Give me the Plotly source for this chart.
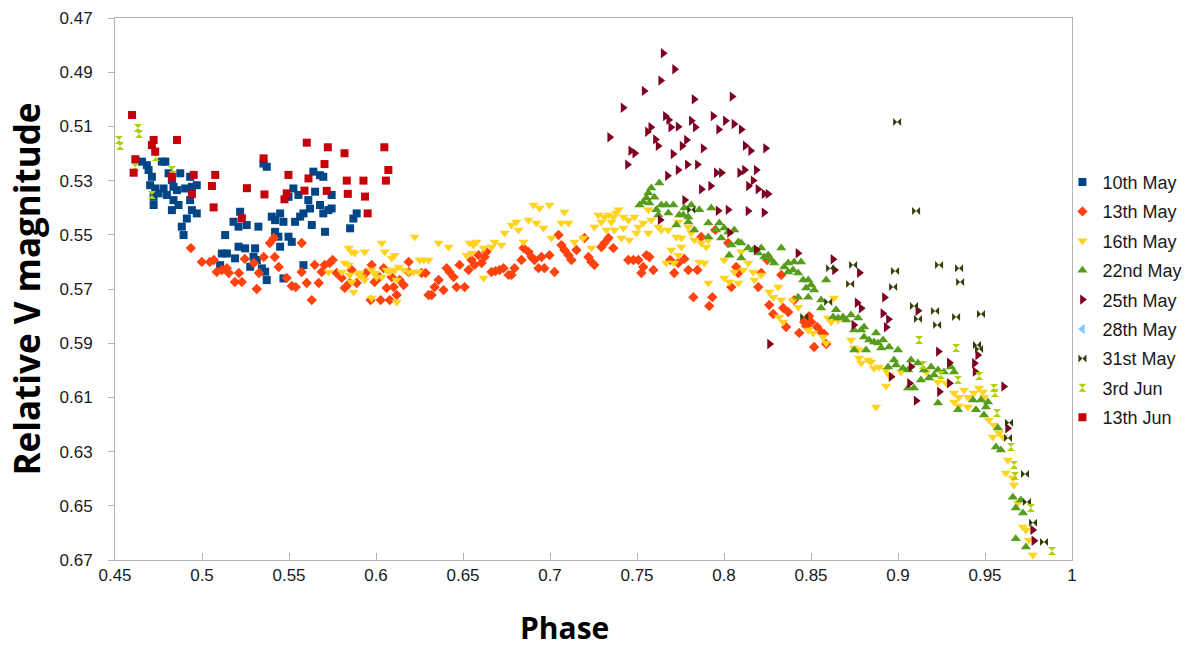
import plotly.graph_objects as go

# ---------------- data (phase, relative V magnitude) ----------------
may10 = [(0.4655,0.5230),(0.4683,0.5243),(0.4693,0.5261),(0.4712,0.5286),(0.4702,0.5317),(0.4731,0.5329),
         (0.4722,0.5360),(0.4722,0.5390),(0.4750,0.5347),(0.4769,0.5230),(0.4789,0.5230),(0.4779,0.5329),
         (0.4798,0.5353),(0.4808,0.5273),(0.4827,0.5298),(0.4836,0.5323),(0.4836,0.5372),(0.4827,0.5409),
         (0.4856,0.5335),(0.4865,0.5390),(0.4875,0.5273),(0.4903,0.5329),(0.4932,0.5286),(0.4942,0.5323),
         (0.4970,0.5317),(0.4932,0.5372),(0.4942,0.5409),(0.4970,0.5421),(0.4913,0.5440),(0.4884,0.5470),
         (0.4894,0.5501),(0.5353,0.5237),(0.5372,0.5249),(0.5219,0.5415),(0.5181,0.5452),(0.5210,0.5470),
         (0.5257,0.5464),(0.5324,0.5470),(0.5133,0.5501),(0.5114,0.5569),(0.5143,0.5569),(0.5104,0.5612),
         (0.5190,0.5587),(0.5210,0.5544),(0.5248,0.5550),(0.5277,0.5618),(0.5296,0.5581),(0.5305,0.5550),
         (0.5315,0.5593),(0.5344,0.5624),(0.5363,0.5636),(0.5372,0.5667),(0.5401,0.5433),(0.5420,0.5446),
         (0.5449,0.5421),(0.5468,0.5452),(0.5420,0.5489),(0.5439,0.5507),(0.5449,0.5544),(0.5497,0.5507),
         (0.5516,0.5526),(0.5468,0.5661),(0.5497,0.5360),(0.5525,0.5329),(0.5554,0.5353),(0.5583,0.5421),
         (0.5564,0.5433),(0.5611,0.5372),(0.5621,0.5403),(0.5640,0.5267),(0.5678,0.5280),(0.5697,0.5286),
         (0.5650,0.5341),(0.5678,0.5390),(0.5697,0.5421),(0.5726,0.5409),(0.5745,0.5353),(0.5745,0.5403),
         (0.5707,0.5489),(0.5631,0.5464),(0.5583,0.5612),(0.5851,0.5476),(0.5870,0.5440),(0.5889,0.5421),
         (0.5535,0.5452)]

may13 = [(0.4936,0.5549),(0.4999,0.5600),(0.5045,0.5600),(0.5068,0.5593),(0.5085,0.5637),(0.5114,0.5630),
         (0.5143,0.5623),(0.5154,0.5641),(0.5189,0.5674),(0.5229,0.5674),(0.5212,0.5641),(0.5246,0.5589),
         (0.5298,0.5604),(0.5355,0.5582),(0.5315,0.5700),(0.5327,0.5641),(0.5390,0.5530),(0.5413,0.5512),
         (0.5418,0.5582),(0.5441,0.5619),(0.5487,0.5659),(0.5516,0.5689),(0.5539,0.5693),(0.5573,0.5637),
         (0.5573,0.5530),(0.5602,0.5678),(0.5631,0.5741),(0.5648,0.5611),(0.5671,0.5678),(0.5688,0.5637),
         (0.5705,0.5611),(0.5734,0.5604),(0.5751,0.5593),(0.5774,0.5641),(0.5803,0.5659),(0.5820,0.5696),
         (0.5849,0.5678),(0.5860,0.5630),(0.5889,0.5678),(0.5941,0.5641),(0.5975,0.5611),(0.5969,0.5741),
         (0.5992,0.5674),(0.6021,0.5656),(0.6044,0.5623),(0.6061,0.5696),(0.6027,0.5741),(0.6090,0.5656),
         (0.6101,0.5693),(0.6119,0.5722),(0.6079,0.5741),(0.6136,0.5667),(0.6159,0.5685),(0.6188,0.5600),
         (0.6188,0.5637),(0.6262,0.5641),(0.6285,0.5641),(0.6302,0.5722),(0.6320,0.5722),(0.6337,0.5693),
         (0.6360,0.5667),(0.6388,0.5704),(0.6406,0.5623),(0.6423,0.5637),(0.6446,0.5656),(0.6463,0.5693),
         (0.6509,0.5693),(0.6480,0.5611),(0.6532,0.5630),(0.6549,0.5593),(0.6566,0.5611),(0.6589,0.5575),
         (0.6607,0.5604),(0.6624,0.5582),(0.6635,0.5563),(0.6664,0.5637),(0.6687,0.5634),(0.6710,0.5630),
         (0.6733,0.5623),(0.6762,0.5648),(0.6779,0.5648),(0.6796,0.5623),(0.6836,0.5593),(0.6848,0.5549),
         (0.6876,0.5563),(0.6894,0.5582),(0.6911,0.5593),(0.6934,0.5623),(0.6951,0.5582),(0.6968,0.5623),
         (0.6997,0.5575),(0.7026,0.5637),(0.7049,0.5501),(0.7066,0.5538),(0.7083,0.5556),(0.7106,0.5575),
         (0.7123,0.5593),(0.7152,0.5556),(0.7198,0.5512),(0.7221,0.5582),(0.7238,0.5600),(0.7255,0.5611),
         (0.7295,0.5545),(0.7313,0.5530),(0.7336,0.5512),(0.7364,0.5549),(0.7450,0.5593),(0.7479,0.5593),
         (0.7508,0.5593),(0.7536,0.5619),(0.7525,0.5641),(0.7554,0.5575),(0.7571,0.5582),(0.7594,0.5630),
         (0.7691,0.5593),(0.7714,0.5641),(0.7737,0.5604),(0.7772,0.5589),(0.7795,0.5630),(0.7847,0.5630),
         (0.7824,0.5730),(0.7933,0.5730),(0.7915,0.5763),(0.7950,0.5482),(0.7869,0.5508),(0.8024,0.5530),
         (0.8042,0.5693),(0.8070,0.5619),(0.8082,0.5641),(0.8197,0.5693),(0.8214,0.5641),(0.8248,0.5593),
         (0.8329,0.5648),(0.8260,0.5759),(0.8283,0.5792),(0.8340,0.5770),(0.8357,0.5840),(0.8369,0.5785),
         (0.8403,0.5741),(0.8432,0.5862),(0.8461,0.5822),(0.8472,0.5837),(0.8489,0.5800),(0.8501,0.5822),
         (0.8518,0.5914),(0.8535,0.5840),(0.8558,0.5859),(0.8575,0.5866),(0.8587,0.5903)]

may16 = [(0.5728,0.5637),(0.5803,0.5637),(0.5820,0.5604),(0.5843,0.5611),(0.5843,0.5549),(0.5849,0.5648),
         (0.5860,0.5674),(0.5860,0.5563),(0.5872,0.5711),(0.5878,0.5567),(0.5901,0.5648),(0.5906,0.5641),
         (0.5918,0.5656),(0.5935,0.5563),(0.5935,0.5667),(0.5975,0.5630),(0.5975,0.5733),(0.5992,0.5641),
         (0.6004,0.5656),(0.6033,0.5530),(0.6033,0.5656),(0.6050,0.5563),(0.6061,0.5630),(0.6079,0.5637),
         (0.6090,0.5586),(0.6107,0.5630),(0.6107,0.5575),(0.6119,0.5667),(0.6119,0.5748),(0.6130,0.5619),
         (0.6159,0.5630),(0.6188,0.5637),(0.6222,0.5508),(0.6216,0.5637),(0.6245,0.5637),(0.6251,0.5593),
         (0.6274,0.5593),(0.6302,0.5593),(0.6360,0.5530),(0.6417,0.5545),(0.6520,0.5575),(0.6538,0.5530),
         (0.6549,0.5567),(0.6561,0.5538),(0.6578,0.5527),(0.6618,0.5549),(0.6618,0.5659),(0.6664,0.5545),
         (0.6681,0.5527),(0.6721,0.5538),(0.6739,0.5493),(0.6779,0.5464),(0.6807,0.5453),(0.6819,0.5482),
         (0.6848,0.5527),(0.6876,0.5445),(0.6905,0.5390),(0.6922,0.5456),(0.6940,0.5401),(0.6962,0.5475),
         (0.6997,0.5390),(0.7008,0.5512),(0.7066,0.5456),(0.7083,0.5416),(0.7106,0.5456),(0.7140,0.5527),
         (0.7192,0.5512),(0.7238,0.5549),(0.7255,0.5471),(0.7278,0.5427),(0.7295,0.5453),(0.7313,0.5434),
         (0.7324,0.5482),(0.7336,0.5427),(0.7353,0.5453),(0.7364,0.5434),(0.7370,0.5482),(0.7381,0.5420),
         (0.7393,0.5408),(0.7410,0.5512),(0.7422,0.5434),(0.7422,0.5475),(0.7450,0.5445),(0.7456,0.5519),
         (0.7485,0.5434),(0.7496,0.5493),(0.7508,0.5471),(0.7536,0.5456),(0.7565,0.5408),(0.7565,0.5493),
         (0.7582,0.5445),(0.7623,0.5471),(0.7640,0.5482),(0.7668,0.5604),(0.7680,0.5482),(0.7697,0.5556),
         (0.7714,0.5604),(0.7726,0.5508),(0.7737,0.5453),(0.7737,0.5575),(0.7755,0.5512),(0.7755,0.5545),
         (0.7795,0.5471),(0.7812,0.5493),(0.7829,0.5519),(0.7858,0.5600),(0.7869,0.5530),(0.7887,0.5604),
         (0.7898,0.5545),(0.7910,0.5519),(0.7910,0.5678),(0.8001,0.5593),(0.8001,0.5659),(0.8030,0.5674),
         (0.8059,0.5637),(0.8082,0.5678),(0.8099,0.5563),(0.8110,0.5630),(0.8139,0.5604),(0.8168,0.5637),
         (0.8174,0.5667),(0.8214,0.5648),(0.8260,0.5711),(0.8283,0.5730),(0.8311,0.5693),(0.8317,0.5803),
         (0.8329,0.5741),(0.8340,0.5822),(0.8397,0.5741),(0.8426,0.5767),(0.8484,0.5851),(0.8512,0.5862),
         (0.8570,0.5877),(0.8587,0.5899),(0.8598,0.5807),(0.8616,0.5822),(0.8633,0.5733),(0.8656,0.5814),
         (0.8730,0.5888),(0.8748,0.5918),(0.8771,0.5925),(0.8776,0.5955),(0.8788,0.5973),(0.8828,0.5962),
         (0.8845,0.5969),(0.8862,0.5992),(0.8874,0.6135),(0.8891,0.5988),(0.8931,0.5999),(0.8931,0.6058),
         (0.8949,0.6017),(0.9017,0.6006),(0.9161,0.6006),(0.9230,0.6043),(0.9276,0.6047),(0.9322,0.6084),
         (0.9322,0.6117),(0.9350,0.6099),(0.9350,0.6132),(0.9379,0.6073),(0.9402,0.6099),(0.9402,0.6135),
         (0.9436,0.6084),(0.9465,0.6065),(0.9488,0.6080),(0.9494,0.6099),(0.9522,0.6183),(0.9545,0.6246),
         (0.9551,0.6202),(0.9580,0.6231),(0.9603,0.6246),(0.9620,0.6379),(0.9632,0.6331),(0.9660,0.6397),
         (0.9666,0.6423),(0.9689,0.6490),(0.9718,0.6578),(0.9735,0.6589),(0.9752,0.6626),(0.9775,0.6682)]

may22 = [(0.7514,0.5390),(0.7536,0.5379),(0.7554,0.5364),(0.7565,0.5346),(0.7571,0.5383),(0.7582,0.5327),
         (0.7600,0.5361),(0.7611,0.5408),(0.7623,0.5427),(0.7628,0.5309),(0.7640,0.5390),(0.7668,0.5390),
         (0.7680,0.5420),(0.7709,0.5390),(0.7726,0.5464),(0.7743,0.5427),(0.7766,0.5427),(0.7772,0.5401),
         (0.7795,0.5434),(0.7795,0.5453),(0.7812,0.5390),(0.7829,0.5482),(0.7858,0.5408),(0.7910,0.5456),
         (0.7910,0.5508),(0.7927,0.5401),(0.7955,0.5482),(0.7973,0.5456),(0.7984,0.5512),(0.8001,0.5475),
         (0.8024,0.5490),(0.8030,0.5575),(0.8042,0.5538),(0.8059,0.5482),(0.8082,0.5527),(0.8099,0.5530),
         (0.8099,0.5586),(0.8139,0.5549),(0.8168,0.5556),(0.8197,0.5567),(0.8214,0.5549),(0.8231,0.5582),
         (0.8254,0.5575),(0.8271,0.5593),(0.8288,0.5604),(0.8329,0.5549),(0.8346,0.5619),(0.8369,0.5604),
         (0.8369,0.5637),(0.8397,0.5630),(0.8403,0.5600),(0.8426,0.5641),(0.8426,0.5730),(0.8443,0.5600),
         (0.8455,0.5667),(0.8472,0.5696),(0.8484,0.5667),(0.8484,0.5730),(0.8501,0.5685),(0.8518,0.5704),
         (0.8558,0.5741),(0.8558,0.5770),(0.8587,0.5667),(0.8627,0.5803),(0.8644,0.5777),(0.8656,0.5807),
         (0.8684,0.5803),(0.8702,0.5814),(0.8730,0.5796),(0.8748,0.5851),(0.8748,0.5925),(0.8771,0.5807),
         (0.8788,0.5851),(0.8805,0.5840),(0.8805,0.5877),(0.8816,0.5925),(0.8834,0.5888),(0.8862,0.5896),
         (0.8874,0.5862),(0.8885,0.5899),(0.8903,0.5918),(0.8914,0.5888),(0.8943,0.5988),(0.8949,0.5914),
         (0.8977,0.5962),(0.8989,0.5980),(0.9000,0.5925),(0.9029,0.5992),(0.9058,0.5999),(0.9058,0.6065),
         (0.9075,0.5962),(0.9092,0.6065),(0.9115,0.5973),(0.9132,0.6036),(0.9149,0.5999),(0.9178,0.6028),
         (0.9190,0.5988),(0.9207,0.6017),(0.9230,0.5999),(0.9230,0.6121),(0.9264,0.6006),(0.9304,0.5988),
         (0.9322,0.6006),(0.9345,0.6146),(0.9431,0.6110),(0.9448,0.6146),(0.9477,0.6110),(0.9494,0.6165),
         (0.9505,0.6135),(0.9517,0.6117),(0.9563,0.6283),(0.9574,0.6213),(0.9591,0.6294),(0.9660,0.6468),
         (0.9677,0.6508),(0.9677,0.6622),(0.9706,0.6479),(0.9718,0.6527),(0.9735,0.6652)]

may25 = [(0.7650,0.4830),(0.7716,0.4889),(0.7636,0.4931),(0.7541,0.4969),(0.7420,0.5031),(0.7343,0.5140),
         (0.7828,0.5000),(0.8046,0.4990),(0.7663,0.5062),(0.7682,0.5076),(0.7694,0.5103),(0.7736,0.5101),
         (0.7812,0.5079),(0.7835,0.5103),(0.7937,0.5062),(0.8008,0.5079),(0.7969,0.5111),(0.8057,0.5091),
         (0.8099,0.5111),(0.7579,0.5103),(0.7560,0.5120),(0.7606,0.5148),(0.7621,0.5172),(0.7464,0.5190),
         (0.7487,0.5199),(0.7445,0.5241),(0.7784,0.5150),(0.7759,0.5172),(0.7880,0.5181),(0.7707,0.5202),
         (0.7675,0.5282),(0.7736,0.5261),(0.7789,0.5241),(0.7847,0.5241),(0.7956,0.5271),(0.7985,0.5271),
         (0.8090,0.5271),(0.8118,0.5261),(0.8185,0.5261),(0.8122,0.5171),(0.8153,0.5190),(0.8239,0.5181),
         (0.8141,0.5320),(0.8167,0.5300),(0.8195,0.5332),(0.8230,0.5349),(0.8253,0.5349),(0.7870,0.5332),
         (0.7923,0.5320),(0.7774,0.5372),(0.7966,0.5411),(0.8023,0.5408),(0.8138,0.5412),(0.8230,0.5418),
         (0.7633,0.5445),(0.8032,0.5492),(0.8185,0.5554),(0.8425,0.5568),(0.8626,0.5590),(0.8635,0.5630),
         (0.8778,0.5640),(0.8262,0.5903),(0.8765,0.5751),(0.8788,0.5771),(0.8746,0.5833),(0.8922,0.5731),
         (0.8913,0.5790),(0.8945,0.5812),(0.8932,0.5841),(0.9114,0.5780),(0.9232,0.5931),(0.9295,0.5972),
         (0.9075,0.5987),(0.9066,0.6048),(0.9104,0.6112),(0.9238,0.6079),(0.9439,0.5974),(0.9443,0.6005),
         (0.9458,0.5944),(0.9607,0.6060),(0.9295,0.6048),(0.8960,0.6024),(0.9630,0.6214),(0.9774,0.6589),
         (0.9781,0.6629)]

may28 = []   # listed in the legend, no visible points

may31 = [(0.8995,0.5084),(0.9104,0.5412),(0.8742,0.5611),(0.8610,0.5623),(0.8725,0.5682),(0.8983,0.5634),
         (0.8972,0.5693),(0.9236,0.5611),(0.9351,0.5623),(0.9357,0.5674),(0.8599,0.5748),(0.9092,0.5763),
         (0.9115,0.5811),(0.9213,0.5781),(0.9225,0.5833),(0.9334,0.5803),(0.9477,0.5792),(0.9454,0.5907),
         (0.9466,0.5921),(0.9638,0.6194),(0.9632,0.6250),(0.9730,0.6383),(0.9741,0.6486),(0.9776,0.6563),
         (0.9839,0.6634),(0.7812,0.5408),(0.8461,0.5803)]

jun3 = [(0.4523,0.5150),(0.4529,0.5172),(0.4632,0.5106),(0.4638,0.5128),(0.4730,0.5194),(0.4735,0.5213),
        (0.4615,0.5250),(0.4827,0.5261),(0.4833,0.5279),(0.4712,0.5353),(0.9121,0.5888),(0.9334,0.5918),
        (0.9144,0.5980),(0.9247,0.6017),(0.9345,0.6036),(0.9466,0.6021),(0.9552,0.6065),(0.9557,0.6084),
        (0.9569,0.6158),(0.9649,0.6283),(0.9667,0.6349),(0.9672,0.6390),(0.9764,0.6508),(0.9885,0.6667)]

jun13 = [(0.4598,0.5058),(0.4722,0.5150),(0.4712,0.5169),(0.4731,0.5193),(0.4617,0.5221),(0.4607,0.5271),
         (0.4856,0.5150),(0.4952,0.5279),(0.5076,0.5279),(0.5057,0.5320),(0.4942,0.5349),(0.5067,0.5399),
         (0.5258,0.5328),(0.5359,0.5351),(0.5229,0.5439),(0.5354,0.5218),(0.4827,0.5286),(0.5602,0.5160),
         (0.5723,0.5177),(0.5819,0.5199),(0.5704,0.5239),(0.5497,0.5279),(0.5612,0.5292),(0.5589,0.5337),
         (0.5717,0.5338),(0.5474,0.5369),(0.5487,0.5347),(0.5832,0.5300),(0.5928,0.5300),(0.5838,0.5349),
         (0.5937,0.5359),(0.5952,0.5421),(0.6048,0.5177),(0.6071,0.5261),(0.6057,0.5300)]

x_ticks = [0.45, 0.5, 0.55, 0.6, 0.65, 0.7, 0.75, 0.8, 0.85, 0.9, 0.95, 1.0]
x_tick_labels = ["0.45", "0.5", "0.55", "0.6", "0.65", "0.7", "0.75", "0.8", "0.85", "0.9", "0.95", "1"]
y_ticks = [0.47, 0.49, 0.51, 0.53, 0.55, 0.57, 0.59, 0.61, 0.63, 0.65, 0.67]
y_tick_labels = ["0.47", "0.49", "0.51", "0.53", "0.55", "0.57", "0.59", "0.61", "0.63", "0.65", "0.67"]

# ---------------- styling ----------------
series = [
    ("10th May", may10, "#004586", "square", 8),
    ("13th May", may13, "#ff420e", "diamond", 8),
    ("16th May", may16, "#ffd320", "triangle-down", 9),
    ("22nd May", may22, "#579d1c", "triangle-up", 9),
    ("25th May", may25, "#7e0021", "triangle-right", 9),
    ("28th May", may28, "#83caff", "triangle-left", 9),
    ("31st May", may31, "#314004", "bowtie", 8),
    ("3rd Jun", jun3, "#aecf00", "hourglass", 8),
    ("13th Jun", jun13, "#c5000b", "square", 8),
]

fig = go.Figure()
for name, pts, color, sym, size in series:
    xs = [p[0] for p in pts] or [None]
    ys = [p[1] for p in pts] or [None]
    fig.add_trace(go.Scatter(
        x=xs, y=ys,
        mode="markers", name=name, legendgroup=name,
        marker=dict(symbol=sym, color=color, size=size, line=dict(width=0)),
    ))

axis_font = dict(family="Liberation Sans, Arial, sans-serif", size=17, color="#1a1a1a")
title_font_family = "Open Sans, sans-serif"

fig.update_layout(
    width=1195, height=650,
    margin=dict(l=115, r=123, t=18, b=90, autoexpand=False),
    paper_bgcolor="white", plot_bgcolor="white",
    showlegend=True,
    legend=dict(
        x=0.99, y=0.731, xanchor="left", yanchor="top",
        font=dict(family="Liberation Sans, Arial, sans-serif", size=18, color="#1a1a1a"),
        traceorder="grouped", tracegroupgap=3,
        bgcolor="rgba(0,0,0,0)",
    ),
    xaxis=dict(
        range=[0.45, 1.0], tickvals=x_ticks, ticktext=x_tick_labels,
        showline=True, linecolor="#b3b3b3", linewidth=1, mirror=True,
        ticks="inside", ticklen=7, tickcolor="#b3b3b3",
        showgrid=False, zeroline=False, tickfont=axis_font,
    ),
    yaxis=dict(
        range=[0.67, 0.47], tickvals=y_ticks, ticktext=y_tick_labels,
        showline=True, linecolor="#b3b3b3", linewidth=1, mirror=True,
        ticks="outside", ticklen=6, tickcolor="#b3b3b3", ticklabelstandoff=12,
        showgrid=False, zeroline=False, tickfont=axis_font,
        title=dict(text="<b>Relative V magnitude</b>", font=dict(family=title_font_family, size=35, color="black"), standoff=8),
    ),
    annotations=[dict(
        text="<b>Phase</b>", xref="paper", yref="paper", x=0.47, y=-0.124,
        xanchor="center", yanchor="middle", showarrow=False,
        font=dict(family=title_font_family, size=30, color="black"),
    )],
)

fig.write_html("out.html")
